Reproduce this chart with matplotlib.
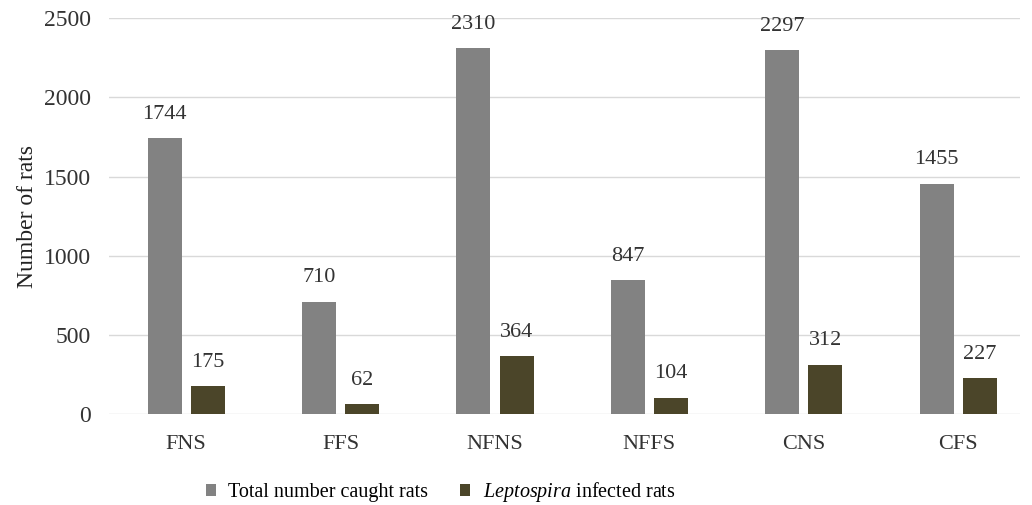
import numpy as np
import matplotlib.pyplot as plt

plt.rcParams['font.family'] = ['Liberation Serif', 'DejaVu Serif']
plt.rcParams['mathtext.fontset'] = 'custom'
plt.rcParams['mathtext.rm'] = 'Liberation Serif'
plt.rcParams['mathtext.it'] = 'Liberation Serif:italic'

sitios = ['FNS', 'FFS', 'NFNS', 'NFFS', 'CNS', 'CFS']
total = [1744, 710, 2310, 847, 2297, 1455]
infectadas = [175, 62, 364, 104, 312, 227]

gris = '#828282'
oliva = '#4b4529'

fig = plt.figure(figsize=(10.32, 5.05), dpi=100)
ax = fig.add_axes([109 / 1032, 0.18, 911 / 1032, 0.784])

x = np.arange(len(sitios))
w = 0.22
b1 = ax.bar(x - 0.14, total, w, color=gris, label='Total number caught rats', zorder=3)
b2 = ax.bar(x + 0.14, infectadas, w, color=oliva, label='$\\it{Leptospira}$ infected rats', zorder=3)

for barras in (b1, b2):
    for r in barras:
        ax.text(r.get_x() + r.get_width() / 2, r.get_height() + 90, str(int(r.get_height())),
                ha='center', va='bottom', fontsize=16, color='#333333')

ax.set_xlim(-0.5, 5.40)
ax.set_ylim(0, 2500)
ax.set_yticks(range(0, 2501, 500))
ax.set_xticks(x)
ax.set_xticklabels(sitios)
ax.yaxis.grid(True, color='#d9d9d9', lw=1, zorder=0)
for s in ax.spines.values():
    s.set_visible(False)
ax.tick_params(length=0, colors='#333333')
ax.tick_params(axis='x', pad=15, labelsize=16)
ax.tick_params(axis='y', pad=13, labelsize=17)
ax.set_ylabel('Number of rats', fontsize=17, color='#222222', labelpad=4)

ax.legend(loc='center', bbox_to_anchor=(0.364, -0.197), ncol=2, frameon=False,
          fontsize=14.5, handlelength=0.5, handleheight=0.5, columnspacing=1.6, handletextpad=0.6)

fig.savefig('out.png', dpi=100)
